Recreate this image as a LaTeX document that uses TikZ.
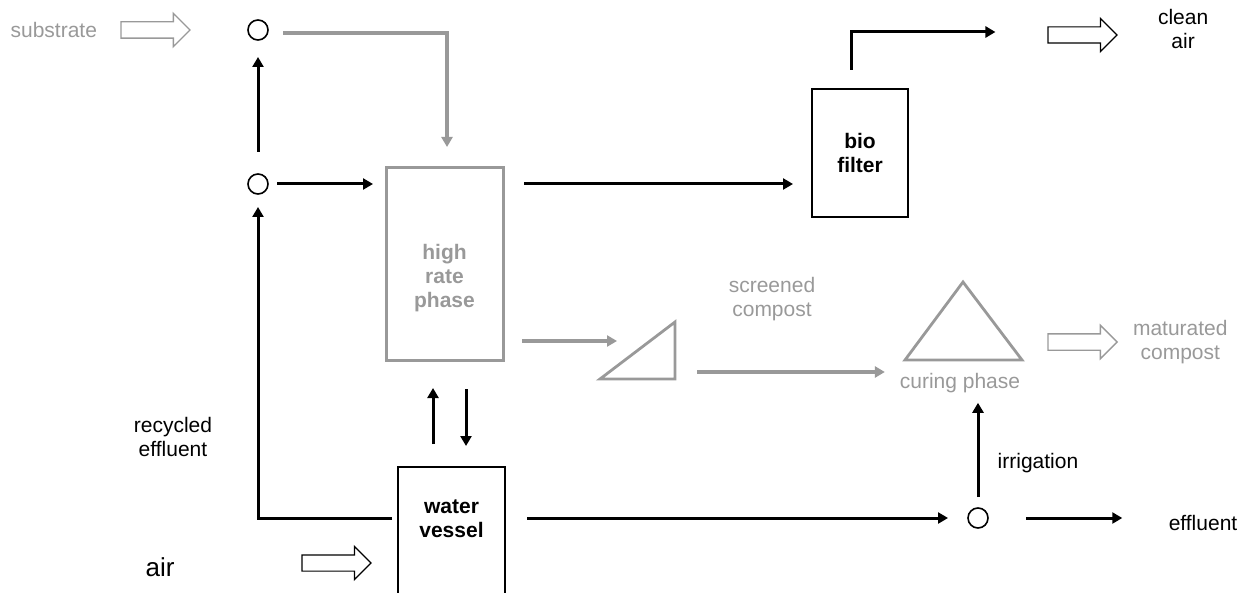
\documentclass[tikz,border=0pt]{standalone}
\usepackage{fontspec}
\setmainfont{Liberation Sans}
\usetikzlibrary{arrows.meta,positioning,shapes.arrows}
\definecolor{ash}{HTML}{999999}
\tikzset{
  every node/.style={font=\fontsize{10.5}{12}\selectfont,outer sep=0pt},
  lbl/.style={align=center,inner sep=1pt},
  glbl/.style={lbl,text=ash},
  tank/.style={draw,line width=0.6pt,align=center,font=\fontsize{10.5}{12}\selectfont\bfseries},
  gtank/.style={draw=ash,line width=1.5pt},
  tanktext/.style={align=center,inner sep=0pt,font=\fontsize{10.5}{12}\selectfont\bfseries},
  junction/.style={circle,draw,line width=0.8pt,minimum size=10pt,inner sep=0pt},
  stream/.style={single arrow,draw,line width=0.6pt,inner sep=0pt,text height=3.75pt,text depth=3.75pt,minimum height=34.5pt,single arrow head extend=4.25pt,anchor=tail},
  gstream/.style={stream,draw=ash,line width=0.7pt},
  flow/.style={-{Triangle[length=5pt,width=5.5pt]},line width=1.5pt},
  gflow/.style={flow,draw=ash,line width=2pt},
  screen/.style={draw=ash,line width=1.4pt}
}
\begin{document}
\begin{tikzpicture}[x=0.5pt,y=-0.5pt]
\useasboundingbox (0,0) rectangle (1252,593);

\node[gstream] (substin) at (121,30) {};
\node[glbl,left=11pt of substin] (subst) {substrate};
\node[junction] (top) at (258,30) {};
\node[junction,below=67pt of top] (mix) {};
\node[gtank,minimum width=58.5pt,minimum height=96pt,
  label={[tanktext,text=ash,yshift=-7.25pt]center:{high\\rate\\phase}}] (hrp) at (444.5,264) {};
\node[tank,minimum width=48pt,minimum height=64pt] (biof) at (860,153) {bio\\filter};
\node[stream] (airout) at (1048,35) {};
\node[lbl,right=19.5pt of airout,yshift=3.25pt] (clean) {clean\\air};

\coordinate (scr-a) at (600,379);
\coordinate (scr-b) at (675,379);
\coordinate (scr-c) at (675,322);
\coordinate (scrin) at (617,341);
\draw[screen] (scr-a) -- (scr-b) -- (scr-c) -- cycle;
\node[glbl] (screened) at (772,299) {screened\\compost};

\coordinate (cure-l) at (905,360);
\coordinate (cure-r) at (1022,360);
\coordinate (cure-t) at (963,282);
\draw[screen] (cure-l) -- (cure-r) -- (cure-t) -- cycle;
\node[glbl] (curing) at (960,383) {curing phase};
\node[gstream] (compout) at (1048,342) {};
\node[glbl,right=7pt of compout] (matured) {maturated\\compost};

\node[lbl] (recycled) at (173,437) {recycled\\effluent};
\node[tank,minimum width=53.5pt,minimum height=86.5pt,
  label={[tanktext,yshift=17.25pt]center:{water\\vessel}}] (wv) at (451.5,553.5) {};
\node[stream] (airin) at (302,563) {};
\node[lbl,font=\fontsize{13}{15}\selectfont,left=62.75pt of airin,yshift=-2.25pt] (air) {air};
\node[junction] (split) at (978,518) {};
\node[lbl] (irrig) at (1038,463.5) {irrigation};
\node[lbl] (effl) at (1203,522.5) {effluent};

\draw[flow,shorten <=11pt,shorten >=8.5pt] (mix) -- (top);
\draw[flow,shorten <=4.5pt,shorten >=6.5pt] (mix) -- (mix -| hrp.west);
\draw[gflow,shorten <=12.5pt,shorten >=10.5pt] ([yshift=-1.5pt]top.center) -| ([xshift=1.25pt]hrp.north);
\draw[flow,shorten <=10.5pt,shorten >=9.5pt] (hrp.east |- mix) -- (biof.west |- mix);
\draw[flow,shorten <=9.5pt,shorten >=41.5pt] ([xshift=-4.5pt]biof.north) |- ([yshift=1.5pt]airout.center);
\draw[gflow,shorten <=9.5pt] (hrp.east |- scrin) -- (scrin);
\draw[gflow,shorten <=11pt,shorten >=6.5pt] ([yshift=3.5pt]scr-b) -- ([yshift=3.5pt]scr-b -| curing.west);
\draw[flow,shorten <=14.5pt,shorten >=10.5pt] ([xshift=7.25pt]wv.north |- hrp.south) -- ([xshift=7.25pt]wv.north);
\draw[flow,shorten <=11.5pt,shorten >=14pt] ([xshift=-9.25pt]wv.north) -- ([xshift=-9.25pt]wv.north |- hrp.south);
\draw[flow,shorten <=3pt,shorten >=6.5pt] (wv.west |- split) -| (mix);
\draw[flow,shorten <=11pt,shorten >=10pt] (wv.east |- split) -- (split);
\draw[flow,shorten <=5.5pt,shorten >=4pt] (split) -- (split |- curing.south);
\draw[flow,shorten <=19pt,shorten >=22.25pt] (split) -- (split -| effl.west);
\end{tikzpicture}
\end{document}
